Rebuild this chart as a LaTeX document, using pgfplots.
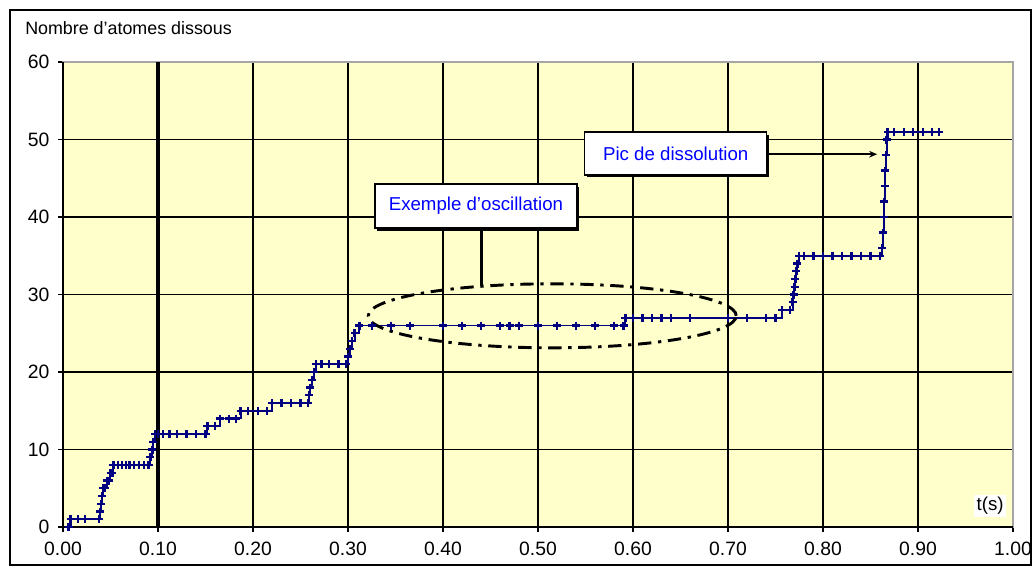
\documentclass[border=0pt]{standalone}
\usepackage{pgfplots}
\pgfplotsset{compat=1.18}
\usepackage{fontspec}
\setmainfont{Liberation Sans}
\usetikzlibrary{shadows,arrows.meta}
\definecolor{bgyellow}{HTML}{FFFFCC}
\definecolor{navyd}{HTML}{000080}
\definecolor{txtblue}{HTML}{0000FF}
\begin{document}
\begin{tikzpicture}
\path[use as bounding box] (0pt,0pt) rectangle (775.5pt,428.25pt);
\draw[black,line width=1.6pt] (7.5pt,4.5pt) rectangle (773.25pt,420.75pt);
\node[anchor=west,font=\fontsize{13.4}{15}\selectfont,inner sep=0pt] at (18.75pt,407.25pt) {Nombre d'atomes dissous};
\begin{axis}[
  at={(47.25pt,33pt)}, anchor=south west,
  scale only axis, width=712.5pt, height=348.75pt,
  xmin=0, xmax=1, ymin=0, ymax=60,
  xtick={0,0.1,...,1.0}, ytick={0,10,...,60},
  xtick pos=left, ytick pos=left,
  tick align=outside, major tick length=3.75pt,
  tick style={black,line width=0.9pt},
  grid=major, major grid style={black,line width=1.1pt},
  axis line style={draw=gray!70,line width=1.2pt},
  axis background/.style={fill=bgyellow},
  ticklabel style={font=\fontsize{14.5}{16}\selectfont},
  /pgf/number format/assume math mode=true,
  xticklabel style={/pgf/number format/.cd,fixed,zerofill,precision=2},
  xticklabel shift=4pt, yticklabel shift=3pt,
  clip=false,
]
\addplot[navyd,line width=1.4pt,mark=+,mark size=3pt,mark options={line width=1.8pt},const plot] coordinates {
(0.006,0) (0.008,1) (0.016,1) (0.023,1) (0.038,1) (0.039,2) (0.040,3) (0.041,4) (0.042,5)
(0.044,5) (0.046,6) (0.048,6) (0.050,7) (0.052,7) (0.053,8) (0.058,8) (0.062,8) (0.066,8)
(0.070,8) (0.075,8) (0.080,8) (0.085,8) (0.090,8) (0.092,9) (0.094,10) (0.095,11) (0.097,12)
(0.100,12) (0.105,12) (0.112,12) (0.120,12) (0.130,12) (0.140,12) (0.150,12) (0.152,13)
(0.160,13) (0.165,14) (0.175,14) (0.182,14) (0.187,15) (0.195,15) (0.205,15) (0.215,15)
(0.220,16) (0.230,16) (0.240,16) (0.250,16) (0.258,16) (0.259,17) (0.260,18) (0.262,19)
(0.264,20) (0.266,21) (0.272,21) (0.280,21) (0.290,21) (0.298,21) (0.300,22) (0.302,23)
(0.304,24) (0.307,25) (0.312,26) (0.325,26) (0.345,26) (0.365,26) (0.400,26) (0.420,26)
(0.440,26) (0.460,26) (0.470,26) (0.480,26) (0.500,26) (0.520,26) (0.540,26) (0.560,26)
(0.580,26) (0.590,26) (0.592,27) (0.600,27) (0.610,27) (0.620,27) (0.630,27) (0.640,27)
(0.660,27) (0.700,27) (0.720,27) (0.740,27) (0.750,27) (0.757,28) (0.765,28) (0.768,29)
(0.769,30) (0.770,31) (0.771,32) (0.772,33) (0.773,34) (0.775,35) (0.780,35) (0.790,35)
(0.800,35) (0.810,35) (0.820,35) (0.830,35) (0.840,35) (0.850,35) (0.860,35) (0.862,36)
(0.863,38) (0.864,40) (0.864,42) (0.865,44) (0.865,46) (0.866,48) (0.867,50) (0.868,51)
(0.875,51) (0.885,51) (0.895,51) (0.905,51) (0.915,51) (0.922,51)
};
\draw[black,line width=2.4pt] (axis cs:0.1,0) -- (axis cs:0.1,60);
\draw[black,line width=1.2pt] (rel axis cs:0,1) -- (rel axis cs:0,0) -- (rel axis cs:1,0);
\draw[black,line width=2.2pt,dash pattern=on 10pt off 5pt on 2.5pt off 5pt] (axis cs:0.515,27.25) ellipse [x radius=138pt, y radius=24pt];
\draw[black,line width=2.2pt] (axis cs:0.441,38.6) -- (axis cs:0.441,31.1);
\draw[black,line width=1.6pt,-{Stealth[length=6pt,width=5pt]}] (axis cs:0.741,48.1) -- (axis cs:0.857,48.1);
\node[draw=black,line width=1.1pt,fill=white,minimum width=151.5pt,minimum height=33pt,inner sep=0pt,
  drop shadow={shadow xshift=1.8pt,shadow yshift=-1.8pt,fill=black,opacity=1},
  text=txtblue,font=\fontsize{14}{16}\selectfont] at (axis cs:0.4347,41.4) {Exemple d'oscillation};
\node[draw=black,line width=1.1pt,fill=white,minimum width=136.5pt,minimum height=32pt,inner sep=0pt,
  drop shadow={shadow xshift=1.8pt,shadow yshift=-1.8pt,fill=black,opacity=1},
  text=txtblue,font=\fontsize{14}{16}\selectfont] at (axis cs:0.645,48.2) {Pic de dissolution};
\node[fill=white,inner sep=2pt,font=\fontsize{14}{16}\selectfont] at (axis cs:0.976,2.7) {t(s)};
\end{axis}
\end{tikzpicture}
\end{document}
